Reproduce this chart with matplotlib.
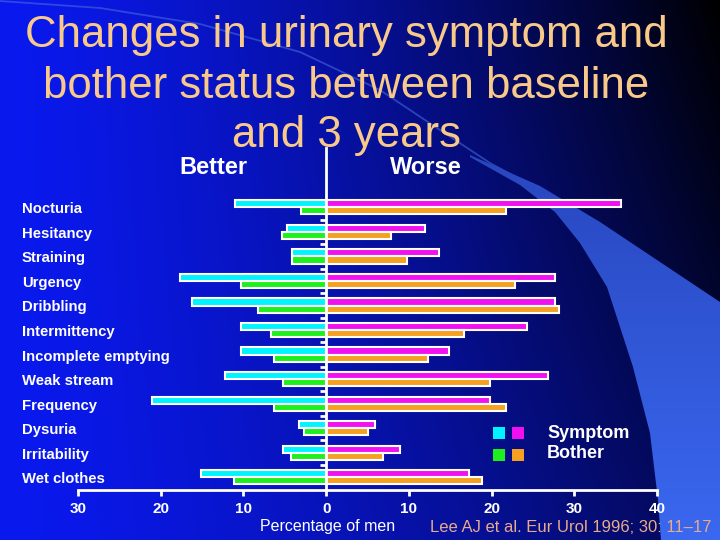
import numpy as np
import matplotlib
matplotlib.use("Agg")
import matplotlib.pyplot as plt
from matplotlib.patches import Polygon, Rectangle
import matplotlib.transforms as mtransforms

plt.rcParams['font.family'] = ['Liberation Sans', 'DejaVu Sans']

categories = ['Nocturia', 'Hesitancy', 'Straining', 'Urgency', 'Dribbling',
              'Intermittency', 'Incomplete emptying', 'Weak stream',
              'Frequency', 'Dysuria', 'Irritability', 'Wet clothes']
symptom_better = [11.0, 4.7, 4.1, 17.7, 16.2, 10.3, 10.3, 12.2, 21.1, 3.3, 5.2, 15.1]
bother_better = [3.0, 5.3, 4.1, 10.3, 8.2, 6.7, 6.3, 5.2, 6.3, 2.7, 4.3, 11.2]
symptom_worse = [35.6, 11.9, 13.7, 27.7, 27.7, 24.3, 14.9, 26.8, 19.8, 5.9, 8.9, 17.3]
bother_worse = [21.8, 7.9, 9.8, 22.8, 28.2, 16.7, 12.3, 19.8, 21.8, 5.0, 6.9, 18.8]
xticks = [-30, -20, -10, 0, 10, 20, 30, 40]
xticklabels = ['30', '20', '10', '0', '10', '20', '30', '40']

C_CYAN = '#00f4ff'
C_GREEN = '#1ef01e'
C_MAG = '#f010f0'
C_ORANGE = '#f5a020'
TITLE_C = '#f9c98a'

W, H = 720, 540
fig = plt.figure(figsize=(7.2, 5.4), dpi=100)

# ---- background ----
bg = fig.add_axes([0, 0, 1, 1])
bg.set_xlim(0, W)
bg.set_ylim(H, 0)
bg.axis('off')
bg.set_zorder(0)
xx, yy = np.meshgrid(np.linspace(0, 1, 360), np.linspace(0, 1, 270))
b = 1 - (xx ** 1.4) * (1 - 0.35 * yy)
b = np.clip(b, 0, 1)
base = np.array([10, 25, 238]) / 255.0
img = b[..., None] * base[None, None, :]
bg.imshow(img, extent=(0, W, H, 0), aspect='auto', interpolation='bilinear', zorder=0)

# thin arc
arc_pts = np.array([(0, 1), (100, 8), (200, 24), (300, 52), (380, 90),
                    (440, 130), (490, 163), (540, 190)])
bg.plot(arc_pts[:, 0], arc_pts[:, 1], color='#4a70e0', lw=1.3, alpha=0.55, zorder=1)

swoosh = np.array([(470, 155), (540, 186), (600, 222), (660, 262), (720, 302),
                   (720, 540), (661, 540), (658, 500), (650, 433), (633, 367),
                   (607, 287), (580, 243), (555, 212), (520, 185), (470, 157)])
poly = Polygon(swoosh, closed=True, facecolor='none', edgecolor='none')
bg.add_patch(poly)
sy = np.linspace(0, 1, 200)[:, None] * np.ones((1, 10))
top_c = np.array([40, 70, 190]) / 255.0
bot_c = np.array([58, 104, 240]) / 255.0
simg = top_c[None, None, :] * (1 - sy[..., None]) + bot_c[None, None, :] * sy[..., None]
sw = bg.imshow(simg, extent=(460, W, H, 150), aspect='auto', zorder=1)
sw.set_clip_path(poly)

# ---- main axes ----
x0, x1 = 78, 657
ytop, ybot = 148, 489.5
ax = fig.add_axes([x0 / W, (H - ybot) / H, (x1 - x0) / W, (ybot - ytop) / H])
ax.set_zorder(2)
ax.patch.set_alpha(0)

n = len(categories)
ypos = np.arange(n)
bh = 0.29
off = 0.145
neg_sb = [-v for v in symptom_better]
neg_bb = [-v for v in bother_better]
kw = dict(height=bh, edgecolor='white', linewidth=1.5)
ax.barh(ypos - off, neg_sb, color=C_CYAN, **kw)
ax.barh(ypos + off, neg_bb, color=C_GREEN, **kw)
ax.barh(ypos - off, symptom_worse, color=C_MAG, **kw)
ax.barh(ypos + off, bother_worse, color=C_ORANGE, **kw)

ax.set_xlim(-30, 40)
ax.set_ylim(11.5, -2.42)

for s in ['top', 'right']:
    ax.spines[s].set_visible(False)
ax.spines['bottom'].set_color('white')
ax.spines['bottom'].set_linewidth(2)
ax.spines['left'].set_position(('data', 0))
ax.spines['left'].set_color('white')
ax.spines['left'].set_linewidth(2)
ax.spines['left'].set_zorder(3)

ax.set_xticks(xticks)
ax.set_xticklabels(xticklabels)
ax.tick_params(axis='x', colors='white', length=4, width=2, direction='out',
               labelsize=11, pad=5)
for t in ax.get_xticklabels():
    t.set_fontweight('bold')
ax.set_yticks(np.arange(n - 1) + 0.5)
ax.set_yticklabels([])
ax.tick_params(axis='y', colors='white', length=4, width=2, direction='out')

trans = mtransforms.blended_transform_factory(fig.transFigure, ax.transData)
for i, c in enumerate(categories):
    ax.text(22 / W, i + 0.08, c, transform=trans, ha='left', va='center',
            color='white', fontsize=10.7, fontweight='bold', clip_on=False)

# ---- overlay text ----
ov = fig.add_axes([0, 0, 1, 1])
ov.set_xlim(0, W)
ov.set_ylim(H, 0)
ov.axis('off')
ov.set_zorder(3)
ov.patch.set_alpha(0)

title_lines = ['Changes in urinary symptom and', 'bother status between baseline', 'and 3 years']
title_y = [35, 87, 136]
for line, ty in zip(title_lines, title_y):
    ov.text(346, ty, line, ha='center', va='center', color=TITLE_C, fontsize=31.5)

ov.text(213, 168, 'Better', ha='center', va='center', color='white', fontsize=17, fontweight='bold')
ov.text(426, 168, 'Worse', ha='center', va='center', color='white', fontsize=17, fontweight='bold')

for (xs, ys, col) in [(493, 427, C_CYAN), (512, 427, C_MAG), (493, 449, C_GREEN), (512, 449, C_ORANGE)]:
    ov.add_patch(Rectangle((xs, ys), 12, 12, facecolor=col, edgecolor='none'))
ov.text(547, 433, 'Symptom', ha='left', va='center', color='white', fontsize=13, fontweight='bold')
ov.text(547, 454, 'Bother', ha='left', va='center', color='white', fontsize=13, fontweight='bold')

ov.text(328, 527, 'Percentage of men', ha='center', va='center', color='white', fontsize=11.5)
ov.text(430, 527, 'Lee AJ et al. Eur Urol 1996; 30: 11\u201317', ha='left', va='center',
        color='#e8aa8c', fontsize=12)

fig.savefig('out.png', dpi=100)
